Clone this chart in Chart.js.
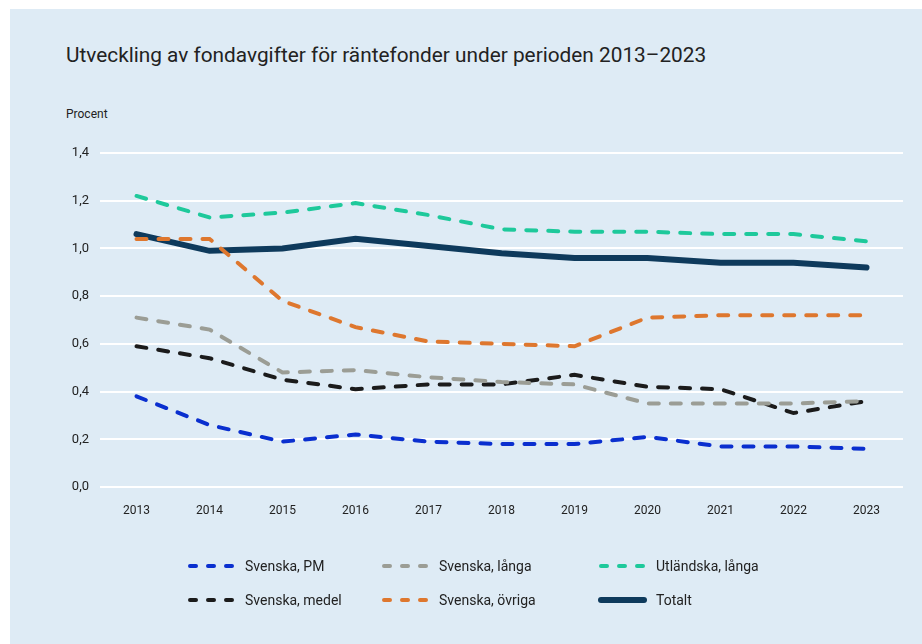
<!DOCTYPE html>
<html lang="sv">
<head>
<meta charset="utf-8">
<script src="https://cdn.jsdelivr.net/npm/chart.js@4.4.1/dist/chart.umd.min.js"></script>
<style>
	html, body { margin: 0; padding: 0; background: #ffffff; }
	#wrap { position: relative; width: 922px; height: 644px; overflow: hidden; font-family: Roboto, 'DejaVu Sans', sans-serif; }
	#panel { position: absolute; left: 10px; top: 9px; right: 0; bottom: 0; background: #deebf5; }
	#title { position: absolute; left: 66px; top: 43px; font-size: 20.8px; color: #222; white-space: nowrap; }
	#unit { position: absolute; left: 66px; top: 107px; font-size: 12px; color: #222; }
	#chart { position: absolute; left: 0; top: 0; }
</style>
</head>
<body>
<div id="wrap">
	<div id="panel"></div>
	<div id="title">Utveckling av fondavgifter för räntefonder under perioden 2013–2023</div>
	<div id="unit">Procent</div>
	<canvas id="chart" width="922" height="644"></canvas>
</div>
<script>
// data
const years = ['2013', '2014', '2015', '2016', '2017', '2018', '2019', '2020', '2021', '2022', '2023'];

const svenskaPM     = [0.38, 0.26, 0.19, 0.22, 0.19, 0.18, 0.18, 0.21, 0.17, 0.17, 0.16];
const svenskaLanga  = [0.71, 0.66, 0.48, 0.49, 0.46, 0.44, 0.43, 0.35, 0.35, 0.35, 0.36];
const utlandskaLanga = [1.22, 1.13, 1.15, 1.19, 1.14, 1.08, 1.07, 1.07, 1.06, 1.06, 1.03];
const svenskaMedel  = [0.59, 0.54, 0.45, 0.41, 0.43, 0.43, 0.47, 0.42, 0.41, 0.31, 0.36];
const svenskaOvriga = [1.04, 1.04, 0.78, 0.67, 0.61, 0.60, 0.59, 0.71, 0.72, 0.72, 0.72];
const totalt        = [1.06, 0.99, 1.00, 1.04, 1.01, 0.98, 0.96, 0.96, 0.94, 0.94, 0.92];

const yMin = 0;
const yMax = 1.4;
const yStep = 0.2;

const FONT = "Roboto, 'DejaVu Sans', sans-serif";

function dashed(label, data, color) {
	return {
		label: label,
		data: data,
		borderColor: color,
		backgroundColor: color,
		borderWidth: 4,
		borderDash: [10, 12],
		borderCapStyle: 'round',
		pointRadius: 0,
		tension: 0,
		fill: false
	};
}

// legend is laid out as a 3 x 2 grid under the plot
const legendGrid = {
	id: 'legendGrid',
	afterDraw(chart) {
		const ctx = chart.ctx;
		const left = chart.chartArea.left;
		const cols = [left + 87, left + 281, left + 498];
		const rows = [566, 600];
		chart.data.datasets.forEach((ds, i) => {
			const x = cols[i % 3];
			const y = rows[Math.floor(i / 3)];
			ctx.save();
			ctx.strokeStyle = ds.borderColor;
			ctx.lineWidth = ds.borderWidth;
			ctx.lineCap = 'round';
			ctx.setLineDash(ds.borderDash ? [6, 12] : []);
			ctx.beginPath();
			ctx.moveTo(x + 3, y);
			ctx.lineTo(x + 46, y);
			ctx.stroke();
			ctx.setLineDash([]);
			ctx.fillStyle = '#222';
			ctx.font = '14px ' + FONT;
			ctx.textBaseline = 'middle';
			ctx.fillText(ds.label, x + 58, y + 1);
			ctx.restore();
		});
	}
};

new Chart(document.getElementById('chart'), {
	type: 'line',
	data: {
		labels: years,
		datasets: [
			dashed('Svenska, PM', svenskaPM, '#0a2fcf'),
			dashed('Svenska, långa', svenskaLanga, '#9b9d95'),
			dashed('Utländska, långa', utlandskaLanga, '#1ec99b'),
			dashed('Svenska, medel', svenskaMedel, '#1b1b1b'),
			dashed('Svenska, övriga', svenskaOvriga, '#de772e'),
			{
				label: 'Totalt',
				data: totalt,
				borderColor: '#0e3a5c',
				backgroundColor: '#0e3a5c',
				borderWidth: 6,
				borderCapStyle: 'round',
				pointRadius: 0,
				tension: 0,
				fill: false
			}
		]
	},
	options: {
		responsive: false,
		animation: false,
		layout: { padding: { top: 153, right: 19, bottom: 0, left: 0 } },
		plugins: {
			legend: { display: false },
			tooltip: { enabled: false }
		},
		scales: {
			x: {
				offset: true,
				grid: { display: false, drawTicks: false },
				border: { display: false },
				ticks: { color: '#222', font: { family: FONT, size: 12 }, padding: 17, maxRotation: 0 },
				afterFit(scale) { scale.height = 157; }
			},
			y: {
				min: yMin,
				max: yMax,
				grid: { color: '#ffffff', lineWidth: 2, drawTicks: false },
				border: { display: false },
				ticks: {
					stepSize: yStep,
					color: '#222',
					font: { family: FONT, size: 13 },
					padding: 11,
					callback: v => v.toFixed(1).replace('.', ',')
				},
				afterFit(scale) { scale.width = 100; }
			}
		}
	},
	plugins: [legendGrid]
});
</script>
</body>
</html>
